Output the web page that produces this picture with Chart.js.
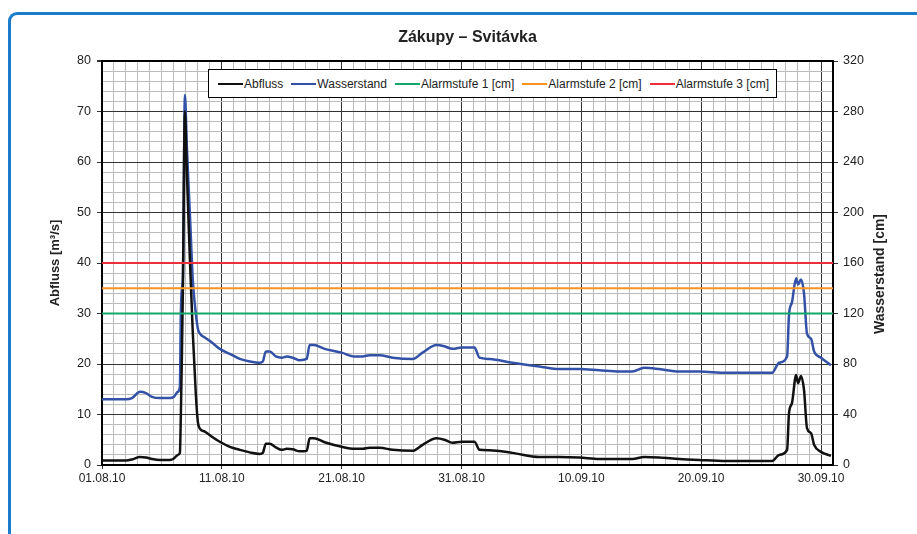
<!DOCTYPE html>
<html>
<head>
<meta charset="utf-8">
<script src="https://cdn.jsdelivr.net/npm/chart.js@4"></script>
<style>
  body { margin: 0; background: #fff; overflow: hidden; }
  #wrap { position: relative; width: 917px; height: 534px; overflow: hidden; }
  #frame {
    position: absolute; left: 8px; top: 12px; width: 1200px; height: 1200px;
    border-left: 3px solid #1b7ccc; border-top: 3px solid #1b7ccc;
    border-top-left-radius: 9px; pointer-events: none;
  }
  #legend {
    position: absolute; left: 208px; top: 69px; width: 558px; height: 27px;
    border: 1px solid #000; background: #fff;
    display: flex; align-items: center; padding-left: 9px; box-sizing: content-box;
    font: 12px "Liberation Sans", Arial, sans-serif; color: #222; white-space: nowrap;
  }
  #legend .item { display: flex; align-items: center; margin-right: 8px; }
  #legend .line { width: 25px; height: 2px; margin-right: 1px; }
</style>
</head>
<body>
<div id="wrap">
  <canvas id="chart" width="917" height="534"></canvas>
  <div id="legend"></div>
  <div id="frame"></div>
</div>
<script>
// Tage ab 01.08.10 (0 = 01.08.10)
const days = [
  0, 2, 2.5, 3.17, 3.67, 4.17, 4.83, 5.67, 6, 6.33,
  6.5, 6.58, 6.67, 6.75, 6.92, 7.08, 7.33, 7.58, 7.83, 8,
  8.17, 8.58, 9.17, 9.83, 10.67, 11.5, 12.33, 13.17, 13.42, 13.67,
  14, 14.5, 15, 15.42, 15.92, 16.5, 17.08, 17.33, 17.67, 18.58,
  20, 21.08, 21.75, 22.33, 23.17, 24.25, 25.92, 26.75, 27.92, 28.58,
  29.25, 30, 31.08, 31.5, 32.33, 34.25, 36.5, 38.17, 39.83, 41.5,
  43.17, 44.25, 45.25, 46.5, 48.17, 49.83, 52.08, 55.92, 56.5, 57.17,
  57.33, 57.58, 57.92, 58.08, 58.33, 58.58, 58.83, 59.17, 59.42, 60,
  60.83
];

// Abfluss [m3/s]
const abfluss = [
  0.9, 0.9, 1.1, 1.6, 1.5, 1.2, 1.0, 1.0, 1.3, 2.0,
  2.4, 10, 22, 35, 70, 58, 41, 26, 14, 8.5,
  7.2, 6.6, 5.6, 4.6, 3.6, 3.0, 2.5, 2.2, 2.4, 4.2,
  4.2, 3.5, 3.0, 3.2, 3.1, 2.7, 2.8, 5.3, 5.3, 4.5,
  3.6, 3.2, 3.2, 3.4, 3.4, 3.0, 2.8, 4.0, 5.3, 5.0,
  4.4, 4.6, 4.6, 3.0, 2.9, 2.4, 1.6, 1.6, 1.5, 1.2,
  1.2, 1.2, 1.6, 1.5, 1.2, 1.0, 0.8, 0.8, 2.0, 3.0,
  10.3, 12.3, 17.8, 16.2, 17.6, 14.9, 7.3, 6.3, 4.0, 2.6,
  1.8
];

// Wasserstand [cm]
const wasserstand = [
  52, 52, 53, 58, 57, 54, 53, 53, 54, 58,
  62, 120, 140, 148, 293, 252, 200, 146, 120, 108,
  104, 101, 97, 92, 88, 84, 82, 81, 82, 90,
  90, 86, 85, 86, 85, 83, 84, 95, 95, 92,
  89, 86, 86, 87, 87, 85, 84, 89, 95, 94,
  92, 93, 93, 85, 84, 81, 78, 76, 76, 75,
  74, 74, 77, 76, 74, 74, 73, 73, 81, 86,
  119, 129, 148, 143, 147, 136, 104, 100, 90, 85,
  79
];

const alarmStufen = [120, 140, 160];
const alarmFarben = ['#12a86b', '#f7931e', '#ec2f3a'];
const xTickLabels = ['01.08.10', '11.08.10', '21.08.10', '31.08.10', '10.09.10', '20.09.10', '30.09.10'];

const FONT = '"Liberation Sans", Arial, sans-serif';
const TXT = '#222';
const MINOR = '#bcbcbc';
const MAJOR = '#333';

const datasets = [
  {
    label: 'Abfluss',
    data: days.map((d, i) => ({ x: d, y: abfluss[i] })),
    borderColor: '#111',
    borderWidth: 2.5,
    yAxisID: 'y',
    order: 1
  },
  {
    label: 'Wasserstand',
    data: days.map((d, i) => ({ x: d, y: wasserstand[i] })),
    borderColor: '#3351a6',
    borderWidth: 2.5,
    yAxisID: 'y2',
    order: 2
  }
];
alarmStufen.forEach((v, i) => {
  datasets.push({
    label: 'Alarmstufe ' + (i + 1) + ' [cm]',
    data: [{ x: 0, y: v }, { x: 61, y: v }],
    borderColor: alarmFarben[i],
    borderWidth: 2,
    yAxisID: 'y2',
    order: 0
  });
});

// rechter Achsentitel (von unten nach oben gelesen)
const rightTitle = {
  id: 'rightTitle',
  afterDraw(chart) {
    const { ctx, chartArea } = chart;
    ctx.save();
    ctx.translate(880, (chartArea.top + chartArea.bottom) / 2 + 11);
    ctx.rotate(-Math.PI / 2);
    ctx.font = 'bold 14px ' + FONT;
    ctx.fillStyle = TXT;
    ctx.textAlign = 'center';
    ctx.textBaseline = 'middle';
    ctx.fillText('Wasserstand [cm]', 0, 0);
    ctx.restore();
  }
};

new Chart(document.getElementById('chart'), {
  type: 'line',
  data: { datasets: datasets },
  plugins: [rightTitle],
  options: {
    responsive: false,
    animation: false,
    elements: {
      point: { radius: 0 },
      line: { cubicInterpolationMode: 'monotone', fill: false }
    },
    layout: { padding: 0 },
    plugins: {
      legend: { display: false },
      tooltip: { enabled: false },
      title: {
        display: true,
        fullSize: false,
        text: 'Zákupy – Svitávka',
        color: TXT,
        font: { family: FONT, size: 16, weight: 'bold', lineHeight: 1.2 },
        padding: { top: 28, bottom: 13.8 }
      }
    },
    scales: {
      x: {
        type: 'linear',
        min: 0,
        max: 61,
        afterFit: s => { s.height = 69; },
        border: { color: '#000', width: 2 },
        grid: {
          color: c => (c.tick && c.tick.value % 10 === 0) ? MAJOR : MINOR,
          lineWidth: c => (c.tick && c.tick.value === 61) ? 2 : 1,
          tickColor: c => (c.tick && c.tick.value % 10 === 0) ? '#333' : 'rgba(0,0,0,0)',
          tickLength: 4
        },
        ticks: {
          stepSize: 1,
          autoSkip: false,
          maxRotation: 0,
          padding: 2,
          color: TXT,
          font: { family: FONT, size: 12 },
          callback: v => v % 10 === 0 ? xTickLabels[v / 10] : ''
        }
      },
      y: {
        position: 'left',
        min: 0,
        max: 80,
        afterFit: s => { s.width = 102; },
        border: { color: '#000', width: 2 },
        grid: {
          color: c => {
            if (!c.tick) return MINOR;
            if (c.tick.value === 80) return '#000';
            return c.tick.value % 10 === 0 ? MAJOR : MINOR;
          },
          lineWidth: c => (c.tick && c.tick.value === 80) ? 2 : 1,
          tickColor: c => (c.tick && c.tick.value % 10 === 0) ? '#333' : 'rgba(0,0,0,0)',
          tickLength: 5
        },
        ticks: {
          stepSize: 2,
          autoSkip: false,
          padding: 6,
          color: TXT,
          font: { family: FONT, size: 12.5 },
          callback: v => v % 10 === 0 ? v : ''
        },
        title: {
          display: true,
          text: 'Abfluss [m³/s]',
          color: TXT,
          font: { family: FONT, size: 13, weight: 'bold' },
          padding: { top: 48, bottom: 0 }
        }
      },
      y2: {
        position: 'right',
        min: 0,
        max: 320,
        afterFit: s => { s.width = 84; },
        border: { color: '#000', width: 2 },
        grid: {
          drawOnChartArea: false,
          tickColor: '#333',
          tickLength: 5
        },
        ticks: {
          stepSize: 40,
          padding: 5,
          color: TXT,
          font: { family: FONT, size: 12.5 }
        }
      }
    }
  }
});

// Legende im Diagrammbereich
const legendEl = document.getElementById('legend');
datasets.forEach(ds => {
  const item = document.createElement('div');
  item.className = 'item';
  item.innerHTML = '<span class="line" style="background:' + ds.borderColor + '"></span><span>' + ds.label + '</span>';
  legendEl.appendChild(item);
});
</script>
</body>
</html>
